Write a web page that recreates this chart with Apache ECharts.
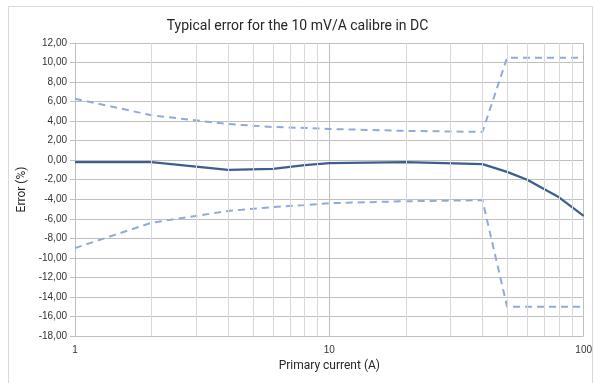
<!DOCTYPE html>
<html>
<head>
<meta charset="utf-8">
<script src="https://cdn.jsdelivr.net/npm/echarts@6/dist/echarts.min.js"></script>
<style>html,body{margin:0;padding:0;background:#fff}#c{width:595px;height:383px}</style>
</head>
<body>
<div id="c"></div>
<script>
const titleText = 'Typical error for the 10 mV/A calibre in DC';
const xName = 'Primary current (A)';
const yName = 'Error (%)';
const currents = [1, 2, 4, 6, 8, 10, 20, 40, 50, 60, 80, 100];
const typicalError = [-0.2, -0.2, -1.0, -0.9, -0.5, -0.3, -0.2, -0.4, -1.2, -2.0, -3.8, -5.7];
const upperLimit = [6.3, 4.6, 3.7, 3.4, 3.3, 3.2, 3.0, 2.9, 10.5, 10.5, 10.5, 10.5];
const lowerLimit = [-9.0, -6.4, -5.2, -4.8, -4.6, -4.4, -4.2, -4.1, -15.0, -15.0, -15.0, -15.0];
const minorGridX = [2, 3, 4, 5, 6, 7, 8, 9, 20, 30, 40, 50, 60, 70, 80, 90];
const yMin = -18, yMax = 12, yStep = 2;

const pair = (ys) => currents.map((x, i) => [x, ys[i]]);
const fontFam = "'Liberation Sans', 'DejaVu Sans', sans-serif";
const chart = echarts.init(document.getElementById('c'), null, {renderer: 'canvas'});
chart.setOption({
  animation: false,
  backgroundColor: '#fff',
  graphic: [{
    type: 'rect', left: 6, top: 4, shape: {width: 584, height: 377},
    style: {fill: 'none', stroke: '#d9d9d9', lineWidth: 1}, silent: true
  }],
  title: {
    text: titleText, left: 'center', top: 14,
    textStyle: {fontFamily: "'Liberation Sans Narrow', 'Roboto', sans-serif", fontSize: 14, fontWeight: 'normal', color: '#262626'}
  },
  grid: {left: 75, right: 10, top: 43, bottom: 47},
  xAxis: {
    type: 'log', logBase: 10, min: 1, max: 100,
    name: xName, nameLocation: 'middle', nameGap: 22,
    nameTextStyle: {fontFamily: "'Liberation Sans Narrow', 'Roboto', sans-serif", fontSize: 12, color: '#262626'},
    axisLine: {show: true, lineStyle: {color: '#bfbfbf'}},
    axisTick: {show: false},
    axisLabel: {fontFamily: fontFam, fontSize: 10, color: '#333333', margin: 9},
    splitLine: {show: true, lineStyle: {color: '#bfbfbf', width: 1}}
  },
  yAxis: {
    type: 'value', min: yMin, max: yMax, interval: yStep,
    name: yName, nameLocation: 'middle', nameGap: 46,
    nameTextStyle: {fontFamily: "'Liberation Sans Narrow', 'Roboto', sans-serif", fontSize: 12, color: '#262626'},
    axisLine: {show: true, lineStyle: {color: '#bfbfbf'}},
    axisTick: {show: true, length: 5, lineStyle: {color: '#bfbfbf'}},
    axisLabel: {fontFamily: fontFam, fontSize: 10, color: '#333333', margin: 8,
      formatter: (v) => v.toFixed(2).replace('.', ',')},
    splitLine: {show: true, lineStyle: {color: '#bfbfbf', width: 1}}
  },
  series: [
    {
      type: 'line', name: 'grid', data: [], silent: true,
      markLine: {
        silent: true, symbol: ['none', 'none'], label: {show: false},
        lineStyle: {color: '#d9d9d9', type: 'solid', width: 1},
        data: minorGridX.map(v => ({xAxis: v}))
      }
    },
    {
      type: 'line', name: 'upper', data: pair(upperLimit), showSymbol: false,
      lineStyle: {color: '#8faadc', width: 2, type: [7, 5]}
    },
    {
      type: 'line', name: 'lower', data: pair(lowerLimit), showSymbol: false,
      lineStyle: {color: '#8faadc', width: 2, type: [7, 5]}
    },
    {
      type: 'line', name: 'typical', data: pair(typicalError), showSymbol: false,
      lineStyle: {color: '#3d5f8f', width: 2.25}
    }
  ]
});
</script>
</body>
</html>
